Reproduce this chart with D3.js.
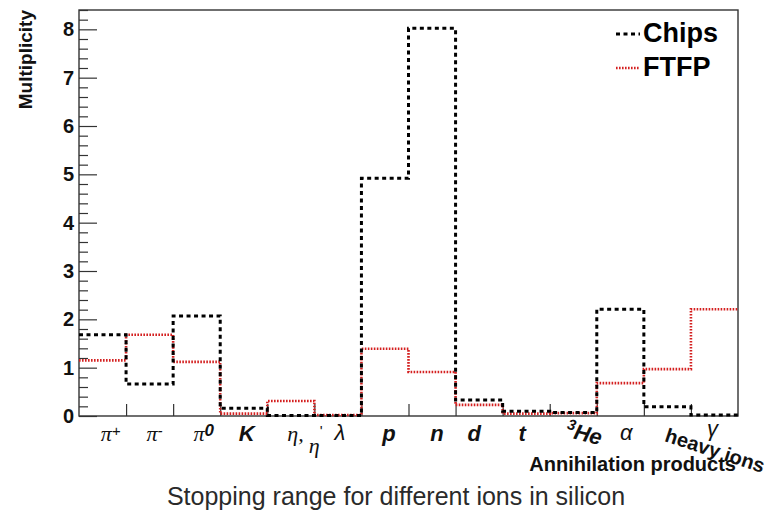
<!DOCTYPE html>
<html>
<head>
<meta charset="utf-8">
<script src="https://cdn.jsdelivr.net/npm/d3@7"></script>
<style>
  body { margin: 0; background: #fff; }
  text { font-family: "Liberation Sans", Arial, sans-serif; }
</style>
</head>
<body>
<svg width="772" height="514"></svg>
<script>
// data
const categories = ["π+", "π-", "π0", "K", "η, η'", "λ", "p", "n", "d", "t", "3He", "α", "heavy ions", "γ"];
const chips = [1.68, 0.66, 2.07, 0.16, 0.01, 0.01, 4.92, 8.02, 0.33, 0.10, 0.07, 2.21, 0.19, 0.02];
const ftfp = [1.15, 1.68, 1.12, 0.05, 0.31, 0.02, 1.39, 0.91, 0.23, 0.05, 0.06, 0.68, 0.97, 2.21];
const yTicks = [0, 1, 2, 3, 4, 5, 6, 7, 8];

// layout
const plotL = 79, plotR = 738, plotT = 10, plotB = 416;
const labelDx = [8, 5, 7, 3, 0, 2, 4, 5, -5, -4, 10, 6, 0, -2];

const svg = d3.select("svg");

const x = d3.scaleLinear().domain([0, categories.length]).range([plotL, plotR]);
const y = d3.scaleLinear().domain([0, 8.4]).range([plotB, plotT]);

// frame
svg.append("rect")
  .attr("x", plotL).attr("y", plotT)
  .attr("width", plotR - plotL).attr("height", plotB - plotT)
  .attr("fill", "none").attr("stroke", "#333").attr("stroke-width", 1.4);

// y axis major + minor ticks (inward)
const yAxis = svg.append("g").attr("transform", `translate(${plotL},0)`)
  .call(d3.axisLeft(y).tickValues(yTicks).tickSize(-18).tickPadding(5).tickFormat(d3.format("d")));
yAxis.select(".domain").remove();
yAxis.selectAll("line").attr("stroke", "#333").attr("stroke-width", 1.2);
yAxis.selectAll("text")
  .attr("font-size", 20).attr("font-weight", "bold").attr("fill", "#111")
  .attr("font-family", "Liberation Sans, Arial, sans-serif");

const minorTicks = d3.range(0, 8.41, 0.2).filter(v => Math.abs(v - Math.round(v)) > 0.01);
const yMinor = svg.append("g").attr("transform", `translate(${plotL},0)`)
  .call(d3.axisLeft(y).tickValues(minorTicks).tickSize(-9).tickFormat(""));
yMinor.select(".domain").remove();
yMinor.selectAll("line").attr("stroke", "#333").attr("stroke-width", 1.2);

// x axis ticks at bin edges (inward)
const xAxis = svg.append("g").attr("transform", `translate(0,${plotB})`)
  .call(d3.axisBottom(x).tickValues(d3.range(1, categories.length)).tickSize(-12).tickFormat(""));
xAxis.select(".domain").remove();
xAxis.selectAll("line").attr("stroke", "#333").attr("stroke-width", 1.2);

// step histograms
function stepPoints(vals) {
  const pts = vals.map((v, i) => [i, v]);
  pts.push([vals.length, vals[vals.length - 1]]);
  return pts;
}
const line = d3.line().x(d => x(d[0])).y(d => y(d[1])).curve(d3.curveStepAfter);

svg.append("path")
  .attr("d", line(stepPoints(ftfp)))
  .attr("fill", "none").attr("stroke", "#d42020")
  .attr("stroke-width", 2.6).attr("stroke-dasharray", "1.6,1.4");

svg.append("path")
  .attr("d", line(stepPoints(chips)))
  .attr("fill", "none").attr("stroke", "#000")
  .attr("stroke-width", 3).attr("stroke-dasharray", "4,3.5");

// bin labels
const greek = "Liberation Serif, DejaVu Serif, serif";
const labels = svg.append("g");
categories.forEach((c, i) => {
  const cx = x(i + 0.5) + labelDx[i];
  const t = labels.append("text")
    .attr("x", cx).attr("y", 441)
    .attr("text-anchor", "middle")
    .attr("font-size", 22).attr("fill", "#111");
  if (c.startsWith("π")) {
    t.append("tspan").attr("font-family", greek).attr("font-style", "italic").text("π");
    t.append("tspan").attr("font-size", c[1] === "0" ? 17 : 15).attr("dy", -5)
      .attr("font-style", "italic").attr("font-weight", c[1] === "0" ? "bold" : "normal").text(c[1]);
  } else if (c === "η, η'") {
    t.attr("text-anchor", "start").attr("x", x(i) + 20);
    t.append("tspan").attr("font-family", greek).attr("font-style", "italic").text("η,");
    t.append("tspan").attr("font-family", greek).attr("font-style", "italic").attr("dx", 5).attr("dy", 12).text("η");
    t.append("tspan").attr("font-size", 15).attr("dy", -17).text("'");
  } else if (c === "λ" || c === "α" || c === "γ") {
    t.attr("font-family", greek).attr("font-style", "italic").attr("y", c === "γ" ? 436 : 440).text(c);
  } else if (c === "3He") {
    t.attr("transform", `rotate(14,${cx},437)`).attr("font-weight", "bold").attr("font-style", "italic");
    t.append("tspan").attr("font-size", 15).attr("dy", -8).text("3");
    t.append("tspan").attr("dy", 8).text("He");
  } else if (c === "heavy ions") {
    const hx = x(i) + 20;
    t.attr("text-anchor", "start").attr("x", hx).attr("y", 441)
      .attr("font-size", 20).attr("font-weight", "bold")
      .attr("transform", `rotate(18,${hx},441)`).text(c);
  } else {
    t.attr("font-weight", "bold").attr("font-style", "italic").text(c);
  }
});

// axis titles
svg.append("text")
  .attr("transform", `translate(32,${plotT}) rotate(-90)`)
  .attr("text-anchor", "end")
  .attr("font-size", 19).attr("font-weight", "bold").attr("fill", "#111")
  .text("Multiplicity");

svg.append("text")
  .attr("x", plotR - 2).attr("y", 471)
  .attr("text-anchor", "end")
  .attr("font-size", 20).attr("font-weight", "bold").attr("fill", "#111")
  .text("Annihilation products");

svg.append("text")
  .attr("x", 396).attr("y", 505)
  .attr("text-anchor", "middle")
  .attr("font-size", 25).attr("fill", "#2a2a2a")
  .text("Stopping range for different ions in silicon");

// legend
const legend = [
  { name: "Chips", color: "#000", dash: "4,3.5", w: 3, y: 34 },
  { name: "FTFP", color: "#d42020", dash: "1.6,1.4", w: 2.6, y: 68 }
];
legend.forEach(l => {
  svg.append("line")
    .attr("x1", 616).attr("x2", 640).attr("y1", l.y).attr("y2", l.y)
    .attr("stroke", l.color).attr("stroke-width", l.w).attr("stroke-dasharray", l.dash);
  svg.append("text")
    .attr("x", 643).attr("y", l.y + 8)
    .attr("font-size", 27).attr("font-weight", "bold").attr("fill", "#000")
    .text(l.name);
});
</script>
</body>
</html>
